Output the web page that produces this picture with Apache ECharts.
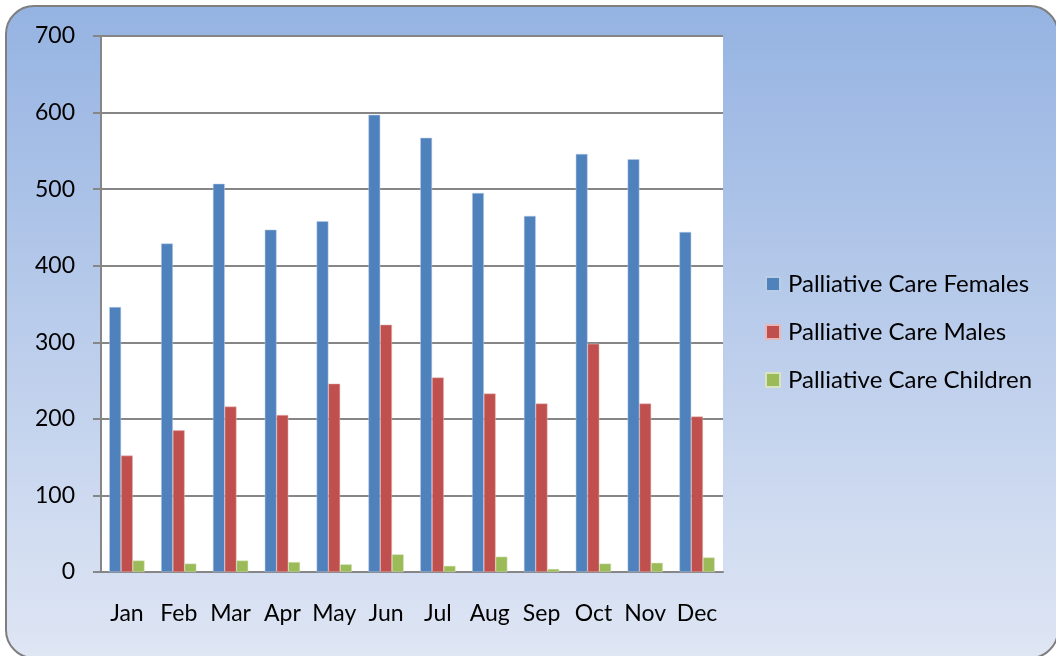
<!DOCTYPE html>
<html style="height: 100%">
<head>
    <meta charset="utf-8">
    <title>Palliative Care</title>
    <script src="https://cdn.jsdelivr.net/npm/echarts@6/dist/echarts.min.js"></script>
</head>
<body style="height: 100%; margin: 0; background: #fff">
<div id="main" style="width: 1056px; height: 656px"></div>

<script type="text/javascript">
    var months = ['Jan', 'Feb', 'Mar', 'Apr', 'May', 'Jun', 'Jul', 'Aug', 'Sep', 'Oct', 'Nov', 'Dec'];
    var females = [346, 429, 507, 447, 458, 597, 567, 495, 465, 546, 539, 444];
    var males = [152, 185, 216, 205, 246, 323, 254, 233, 220, 298, 220, 203];
    var children = [15, 11, 15, 13, 10, 23, 8, 20, 4, 11, 12, 19];

    var font = 'Lato, "Noto Sans", sans-serif';
    var myChart = echarts.init(document.getElementById('main'));

    var option = {
        animation: false,
        textStyle: {fontFamily: font},
        graphic: [{
            type: 'rect',
            z: -10,
            silent: true,
            shape: {x: 6, y: 6, width: 1052, height: 652, r: 28},
            style: {
                fill: new echarts.graphic.LinearGradient(0, 0, 0, 1, [
                    {offset: 0, color: '#95b3e2'},
                    {offset: 1, color: '#dfe6f4'}
                ]),
                stroke: '#7f7f7f',
                lineWidth: 2
            }
        }],
        legend: {
            orient: 'vertical',
            left: 765,
            top: 272,
            padding: 0,
            itemWidth: 14,
            itemHeight: 14,
            itemGap: 24,
            icon: 'rect',
            textStyle: {fontSize: 24, lineHeight: 24, color: '#000', fontFamily: font, padding: [0, 0, 0, 3]},
            data: ['Palliative Care Females', 'Palliative Care Males', 'Palliative Care Children']
        },
        grid: {
            left: 101,
            top: 36,
            right: 333,
            bottom: 84,
            show: true,
            backgroundColor: '#fff',
            borderWidth: 0
        },
        xAxis: {
            type: 'category',
            data: months,
            axisLine: {lineStyle: {color: '#868686', width: 2}},
            axisTick: {length: 7, lineStyle: {color: '#868686', width: 2}},
            axisLabel: {interval: 0, fontSize: 23, color: '#000', margin: 30, fontFamily: font}
        },
        yAxis: {
            type: 'value',
            min: 0,
            max: 700,
            interval: 100,
            axisLine: {show: true, lineStyle: {color: '#868686', width: 2}},
            axisTick: {show: true, length: 8, lineStyle: {color: '#868686', width: 2}},
            axisLabel: {fontSize: 23, color: '#000', margin: 26, fontFamily: font},
            splitLine: {lineStyle: {color: '#868686', width: 2}}
        },
        series: [
            {
                name: 'Palliative Care Females',
                type: 'bar',
                data: females,
                barGap: '0%',
                barCategoryGap: '32%',
                itemStyle: {color: '#4f81bd', borderColor: '#b9cde5', borderWidth: 0.5}
            },
            {
                name: 'Palliative Care Males',
                type: 'bar',
                data: males,
                itemStyle: {color: '#c0504d', borderColor: '#e6b9b8', borderWidth: 0.5}
            },
            {
                name: 'Palliative Care Children',
                type: 'bar',
                data: children,
                itemStyle: {color: '#9bbb59', borderColor: '#d7e4bd', borderWidth: 0.5}
            }
        ]
    };
    myChart.setOption(option, true);
</script>
</body>
</html>
